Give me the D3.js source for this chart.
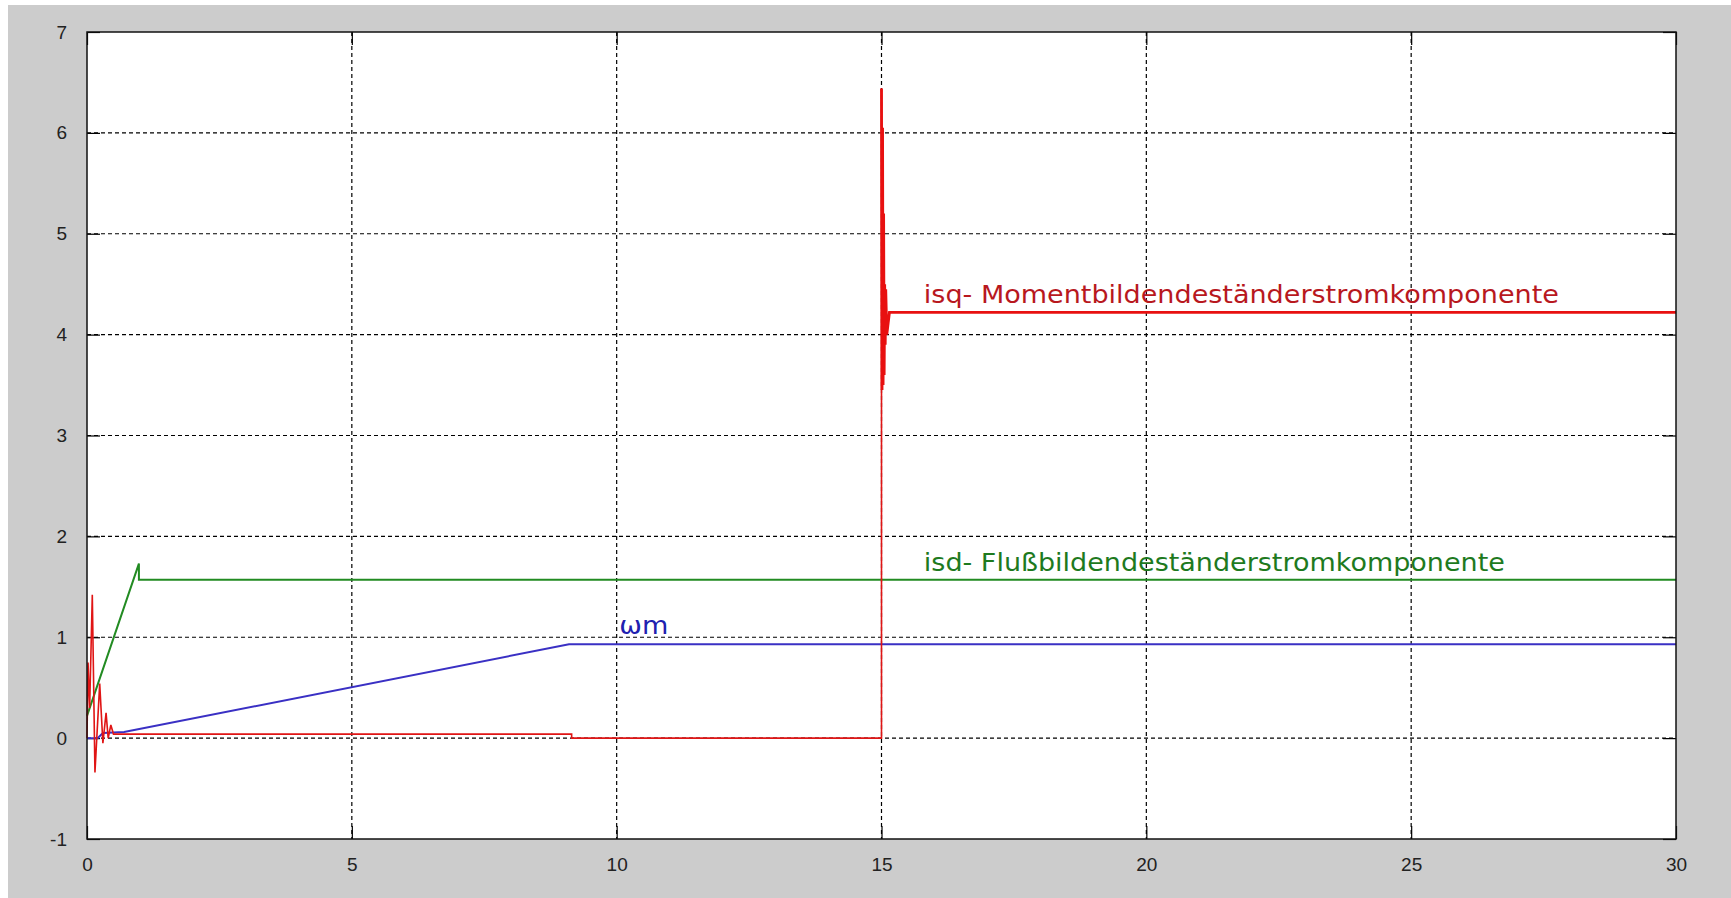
<!DOCTYPE html>
<html lang="en">
<head>
    <meta charset="UTF-8">
    <title>isq / isd / wm</title>
    <style>
        body { margin: 0; background: #fff; }
        .tick-label { font-family: "Liberation Sans", Arial, sans-serif; font-size: 19px; fill: #222; }
        .note { font-family: "DejaVu Sans", Verdana, sans-serif; font-size: 24px; }
    </style>
</head>
<body>
<svg class='chart'></svg>

<script src="https://d3js.org/d3.v7.min.js"></script>
<script>
// tick labels
var xTicks = [0, 5, 10, 15, 20, 25, 30];
var yTicks = [-1, 0, 1, 2, 3, 4, 5, 6, 7];

// isq (red)
var isqT = [0, 0.02, 0.05, 0.1, 0.15, 0.24, 0.3, 0.36, 0.4, 0.45, 0.5, 9.15, 9.15,
            15.0, 15.0, 15.01, 15.02, 15.03, 15.04, 15.05, 15.06, 15.07, 15.08, 15.1, 15.15, 30];
var isqV = [0, 0.75, 0.3, 1.42, -0.34, 0.54, -0.05, 0.25, 0.0, 0.13, 0.04, 0.04, 0,
            0, 6.44, 3.45, 6.05, 3.5, 5.2, 3.6, 4.5, 3.9, 4.45, 4.0, 4.22, 4.22];

// isd (green)
var isdT = [0, 0.98, 0.98, 30];
var isdV = [0.22, 1.73, 1.57, 1.57];

// wm (blue)
var wmT = [0, 0.2, 0.3, 0.7, 9.1, 30];
var wmV = [0, 0.0, 0.05, 0.06, 0.93, 0.93];

// annotations
var notes = [
    {text: 'isq- Momentbildendeständerstromkomponente', x: 15.8, y: 4.4, color: '#b8181e', len: 635},
    {text: 'isd- Flußbildendeständerstromkomponente', x: 15.8, y: 1.74, color: '#1e7a1e', len: 581},
    {text: 'ωm', x: 10.05, y: 1.12, color: '#2020b0', len: 49}
];

var W = 1731, H = 898;
var margin = {top: 32, right: 55, bottom: 59, left: 87};
var width = W - margin.left - margin.right;
var height = H - margin.top - margin.bottom;

var svg = d3.select('.chart')
    .attr('width', W)
    .attr('height', H);

// grey figure background
svg.append('rect')
    .attr('x', 8).attr('y', 5)
    .attr('width', W - 8).attr('height', H - 5)
    .attr('fill', '#cccccc');

var chart = svg.append('g')
    .attr('transform', `translate(${margin.left}, ${margin.top})`);

var x = d3.scaleLinear().domain([0, 30]).range([0, width]);
var y = d3.scaleLinear().domain([-1, 7]).range([height, 0]);

chart.append('rect')
    .attr('width', width).attr('height', height)
    .attr('fill', '#fff');

// dashed grid
chart.selectAll('.vgrid')
    .data(xTicks.slice(1, -1))
    .enter().append('line')
    .attr('class', 'vgrid')
    .attr('x1', d => x(d)).attr('x2', d => x(d))
    .attr('y1', 0).attr('y2', height)
    .attr('stroke', '#000').attr('stroke-width', 1.2)
    .attr('stroke-dasharray', '4,3');

chart.selectAll('.hgrid')
    .data(yTicks.slice(1, -1))
    .enter().append('line')
    .attr('class', 'hgrid')
    .attr('y1', d => y(d)).attr('y2', d => y(d))
    .attr('x1', 0).attr('x2', width)
    .attr('stroke', '#000').attr('stroke-width', 1.2)
    .attr('stroke-dasharray', '4,3');

// axes, matlab style: ticks inside, on all four sides
var tl = 13;
var fmt = d => String(d);   // plain hyphen for -1

chart.append('g')
    .attr('transform', `translate(0, ${height})`)
    .call(d3.axisBottom(x).tickValues(xTicks).tickFormat(fmt).tickSize(-tl).tickPadding(tl + 6))
    .call(g => g.select('.domain').remove())
    .call(g => g.selectAll('text').attr('class', 'tick-label').attr('font-size', null).attr('font-family', null));

chart.append('g')
    .call(d3.axisLeft(y).tickValues(yTicks).tickFormat(fmt).tickSize(-tl).tickPadding(tl + 7))
    .call(g => g.select('.domain').remove())
    .call(g => g.selectAll('text').attr('class', 'tick-label').attr('font-size', null).attr('font-family', null));

chart.append('g')
    .call(d3.axisTop(x).tickValues(xTicks).tickSize(-tl).tickFormat(''))
    .call(g => g.select('.domain').remove());

chart.append('g')
    .attr('transform', `translate(${width}, 0)`)
    .call(d3.axisRight(y).tickValues(yTicks).tickSize(-tl).tickFormat(''))
    .call(g => g.select('.domain').remove());

chart.selectAll('.tick line').attr('stroke', '#000').attr('stroke-width', 1.2);

// lines
var line = d3.line()
    .x(d => x(d[0]))
    .y(d => y(d[1]));

function series(t, v) {
    return t.map((d, i) => [d, v[i]]);
}

chart.append('path')
    .datum(series(isdT, isdV))
    .attr('d', line)
    .attr('fill', 'none')
    .attr('stroke', '#228b22')
    .attr('stroke-width', 2);

chart.append('path')
    .datum(series(wmT, wmV))
    .attr('d', line)
    .attr('fill', 'none')
    .attr('stroke', '#3a30c4')
    .attr('stroke-width', 2);

// isq: before the load step the trace looks thin, after it thick
var isq = series(isqT, isqV);
var split = isqT.indexOf(15.0) + 1;

chart.append('path')
    .datum(isq.slice(0, split + 1))
    .attr('d', line)
    .attr('fill', 'none')
    .attr('stroke', '#e01515')
    .attr('stroke-width', 1.6);

chart.append('path')
    .datum(isq.slice(split))
    .attr('d', line)
    .attr('fill', 'none')
    .attr('stroke', '#e81010')
    .attr('stroke-width', 2.8);

// box
chart.append('rect')
    .attr('width', width).attr('height', height)
    .attr('fill', 'none')
    .attr('stroke', '#111')
    .attr('stroke-width', 1.5);

// labels on the traces
chart.selectAll('.note')
    .data(notes)
    .enter().append('text')
    .attr('class', 'note')
    .attr('x', d => x(d.x))
    .attr('y', d => y(d.y))
    .attr('dy', '0.35em')
    .attr('fill', d => d.color)
    .attr('textLength', d => d.len)
    .attr('lengthAdjust', 'spacingAndGlyphs')
    .text(d => d.text);
</script>
</body>
</html>
